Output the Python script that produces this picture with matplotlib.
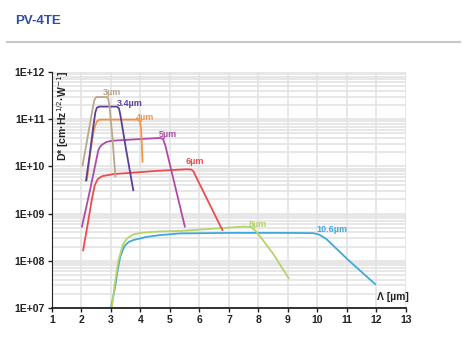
import matplotlib
matplotlib.use("Agg")
import matplotlib.pyplot as plt
from matplotlib.lines import Line2D

plt.rcParams['font.family'] = ['Liberation Sans', 'DejaVu Sans']

# Detector curves (wavelength um, D* cm*Hz^1/2/W)
x_3 = [2.03, 2.15, 2.28, 2.38, 2.44, 2.50, 2.85, 2.91, 2.95, 3.05, 3.15]
y_3 = [1.0e10, 2.6e10, 7.5e10, 1.7e11, 2.6e11, 2.95e11, 2.95e11, 2.7e11, 1.8e11, 4e10, 5.9e9]

x_34 = [2.15, 2.28, 2.40, 2.47, 2.52, 2.60, 3.20, 3.27, 3.32, 3.50, 3.76]
y_34 = [4.8e9, 1.8e10, 7e10, 1.4e11, 1.75e11, 1.85e11, 1.85e11, 1.7e11, 1.2e11, 2.5e10, 3e9]

x_4 = [2.18, 2.30, 2.42, 2.52, 2.60, 2.70, 3.90, 3.98, 4.02, 4.05, 4.07]
y_4 = [5e9, 2e10, 6e10, 9e10, 9.7e10, 9.8e10, 9.8e10, 9e10, 6e10, 2.5e10, 1.2e10]

x_5 = [2.01, 2.30, 2.57, 2.63, 2.70, 2.85, 3.05, 4.0, 4.65, 4.76, 4.84, 5.51]
y_5 = [5.1e8, 3.4e9, 2.2e10, 2.6e10, 2.9e10, 3.3e10, 3.5e10, 3.8e10, 4e10, 3.85e10, 2.8e10, 5.1e8]

x_6 = [2.05, 2.20, 2.35, 2.45, 2.55, 2.70, 3.1, 3.8, 4.5, 5.55, 5.72, 5.80, 5.85, 6.79]
y_6 = [1.6e8, 5.5e8, 2.0e9, 4.0e9, 5.4e9, 6.2e9, 6.9e9, 7.4e9, 8.0e9, 8.7e9, 8.6e9, 7.8e9, 6.6e9, 4.3e8]

x_8 = [3.03, 3.12, 3.25, 3.40, 3.55, 3.75, 4.0, 4.66, 5.34, 6.5, 7.5, 7.75, 7.95, 8.5, 9.04]
y_8 = [1e7, 3e7, 1e8, 2.2e8, 3e8, 3.6e8, 3.9e8, 4.2e8, 4.3e8, 4.8e8, 5.3e8, 5.2e8, 4e8, 1.4e8, 4.1e7]

x_106 = [3.0, 3.08, 3.14, 3.22, 3.31, 3.40, 3.47, 3.60, 3.76, 4.2, 4.66, 5.34, 7.0, 9.0, 9.86, 10.05, 10.3, 11.0, 11.98]
y_106 = [1e7, 1.8e7, 2.8e7, 6e7, 1.2e8, 1.7e8, 2.1e8, 2.5e8, 2.75e8, 3.2e8, 3.5e8, 3.8e8, 3.9e8, 3.9e8, 3.85e8, 3.6e8, 2.9e8, 1.1e8, 3.1e7]

names = ['3µm', '3.4µm', '4µm', '5µm', '6µm', '8µm', '10.6µm']
label_x = [3.02, 3.64, 4.15, 4.94, 5.85, 7.98, 10.5]
label_y = [3.6e11, 2.1e11, 1.07e11, 4.8e10, 1.26e10, 6e8, 4.7e8]

ytick_vals = [1e7, 1e8, 1e9, 1e10, 1e11, 1e12]
ytick_text = ['1E+07', '1E+08', '1E+09', '1E+10', '1E+11', '1E+12']

series = [(x_3, y_3), (x_34, y_34), (x_4, y_4), (x_5, y_5), (x_6, y_6), (x_8, y_8), (x_106, y_106)]
colors = ['#b9a68e', '#5b3f9a', '#f39447', '#b04aa8', '#ee4c4c', '#b5d46a', '#3fa9dc']
draw_order = [6, 5, 4, 3, 2, 1, 0]

fig = plt.figure(figsize=(4.64, 3.56), dpi=100)
ax = fig.add_axes([52/464, 48/356, 354/464, 236/356])

for i in draw_order:
    xs, ys = series[i]
    ax.plot(xs, ys, color=colors[i], lw=1.3, solid_capstyle='butt', solid_joinstyle='round')
for i in range(len(names)):
    ax.text(label_x[i], label_y[i], names[i], color=colors[i], fontsize=6.5,
            fontweight='bold', ha='center', va='center')

ax.set_yscale('log')
ax.set_xlim(1, 13)
ax.set_ylim(1e7, 1e12)
ax.set_xticks(range(1, 14))
ax.set_yticks(ytick_vals)
ax.set_yticklabels(ytick_text)
ax.tick_params(axis='both', labelsize=7.5, length=3, width=1, color='#222222', pad=2)
for lab in ax.get_xticklabels() + ax.get_yticklabels():
    lab.set_fontweight('bold')
    lab.set_color('#222222')
ax.tick_params(axis='y', which='minor', length=0)

ax.grid(True, axis='x', color='#e3e3e3', lw=1.2)
ax.grid(True, axis='y', which='both', color='#e3e3e3', lw=1.2)
ax.set_axisbelow(True)
for s in ['top', 'right']:
    ax.spines[s].set_visible(False)
ax.spines['left'].set_color('#222222')
ax.spines['bottom'].set_color('#222222')
ax.spines['bottom'].set_linewidth(1.3)

ax.text(0.03, 0.815, 'D* [cm·Hz$^{1/2}$·W$^{-1}$]', transform=ax.transAxes, rotation=90,
        ha='center', va='center', fontsize=7.5, fontweight='bold', color='#222222')
ax.text(0.963, 0.047, 'Λ [µm]', transform=ax.transAxes, ha='center', va='center',
        fontsize=7.5, fontweight='bold', color='#222222')

fig.text(15/464, 1 - 21/356, 'PV-4TE', fontsize=9.5, fontweight='bold', color='#2f4f9f',
         ha='left', va='center')
fig.add_artist(Line2D([7/464, 460/464], [1 - 42/356, 1 - 42/356], color='#c8c8c8', lw=1.5,
                      transform=fig.transFigure))

fig.savefig('out.png', dpi=100)
